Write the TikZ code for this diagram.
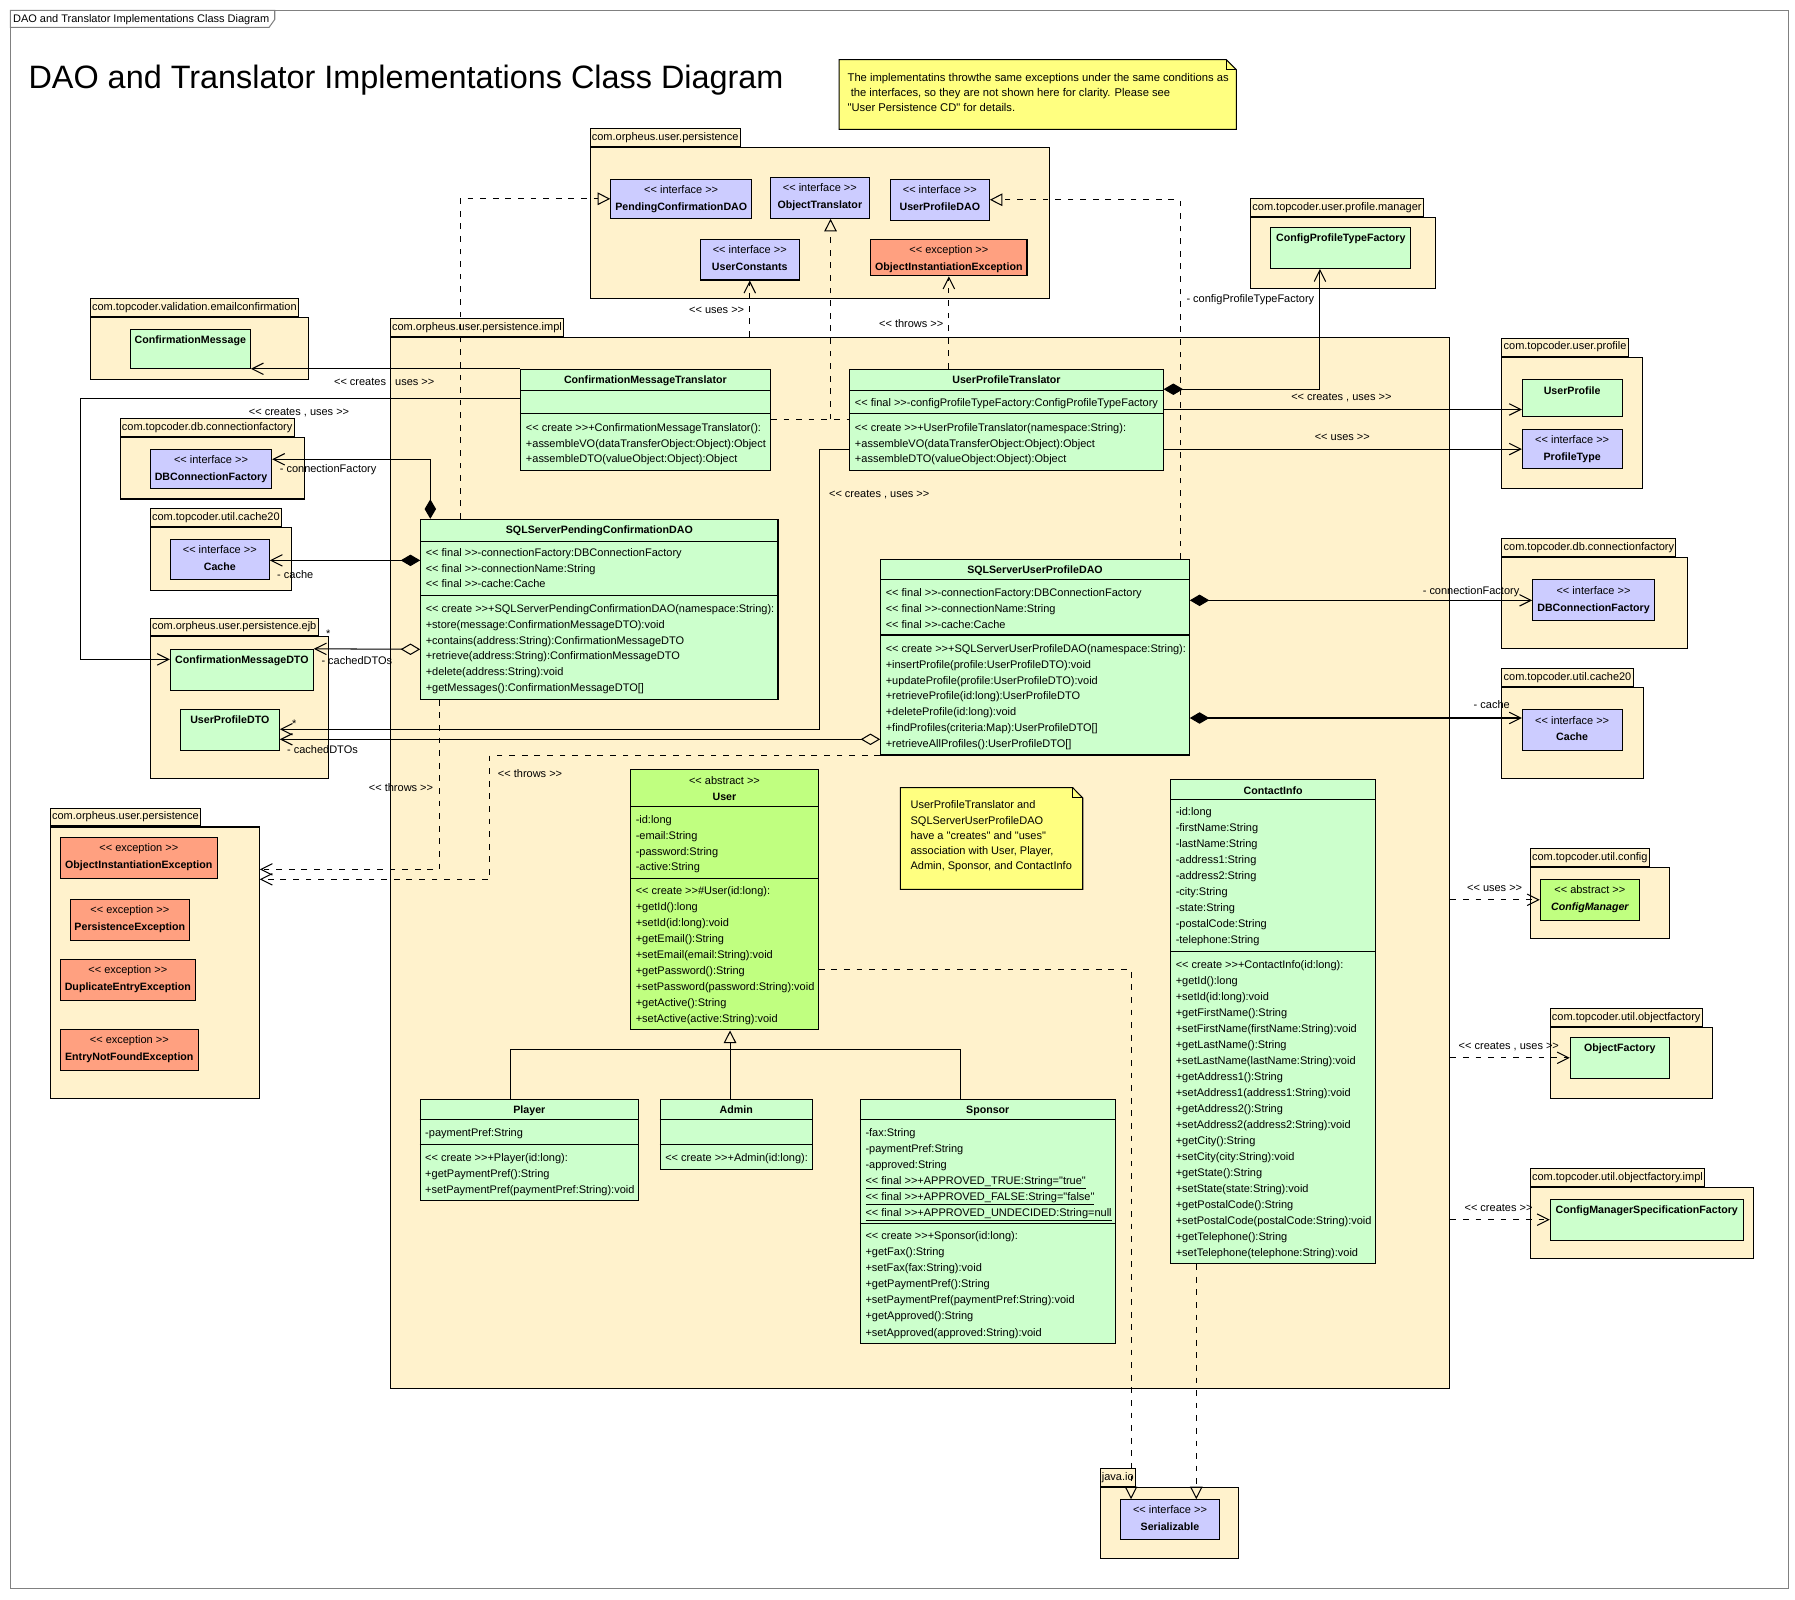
\documentclass[tikz,border=0pt]{standalone}
\usepackage{fontspec}
\setmainfont{Liberation Sans}[Ligatures=TeXOff]
\usetikzlibrary{arrows.meta,fit}

\definecolor{pkgfill}{RGB}{255,242,204}
\definecolor{clsfill}{RGB}{204,255,204}
\definecolor{ifcfill}{RGB}{204,204,255}
\definecolor{excfill}{RGB}{255,160,128}
\definecolor{absfill}{RGB}{192,255,128}
\definecolor{notefill}{RGB}{255,255,128}

% one line per member: first baseline at #3, then every #4
\newcommand\members[5]{%
  \foreach \mline [count=\k] in {#5}
    \node[mem] (#1\k) at (#2,{#3+#4*(\k-1)}) {\ignorespaces\mline};}

\tikzset{
  pkg/.style={draw, fill=pkgfill, inner sep=0pt},
  pkgtab/.style={draw, fill=pkgfill, anchor=south west, inner xsep=1.5pt,
    inner ysep=0pt, minimum height=15.5pt},
  cls/.style={draw, fill=clsfill, inner sep=0pt},
  ifc/.style={cls, fill=ifcfill},
  exc/.style={cls, fill=excfill},
  abs/.style={cls, fill=absfill},
  mem/.style={anchor=base west, inner sep=0pt},
  hd/.style={anchor=base, inner sep=0pt, font=\fontsize{9.3}{12}\selectfont\bfseries},
  st/.style={anchor=base, inner sep=0pt},
  lbl/.style={inner sep=0pt},
  dsh/.style={dash pattern=on 5pt off 6pt},
  dep/.style={-{Straight Barb[length=10pt,width=10pt]}},
  real/.style={dsh, -{Triangle[open,length=11pt,width=11pt]}},
  gen/.style={-{Triangle[open,length=11pt,width=11pt]}},
  comp/.style={{Diamond[length=17pt,width=10pt]}-{Straight Barb[length=10pt,width=10pt]}},
  aggr/.style={{Diamond[open,length=17pt,width=10pt]}-{Straight Barb[length=10pt,width=10pt]}},
  note/.style={draw, fill=notefill},
  diagframe/.style={draw=black!50},
}

\begin{document}
\begin{tikzpicture}[x=1pt, y=-1pt, line width=0.9pt, font=\fontsize{9.6}{12}\selectfont]
\useasboundingbox (0,0) rectangle (1568,1397);

% frame and title
\draw[diagframe] (9,9) rectangle (1562,1388);
\draw[diagframe, fill=white] (9,9) -- (240,9) -- (240,17) -- (235,24) -- (9,24) -- cycle;
\node[anchor=base west, inner sep=0pt] (frametag) at (11,20) {DAO and Translator Implementations Class Diagram};
\node[anchor=base west, inner sep=0pt, font=\fontsize{28.3}{34}\selectfont] (title) at (24.5,77.5) {DAO and Translator Implementations Class Diagram};

% notes
\draw[note] (733,52) -- (1071,52) -- (1080,61) -- (1080,113) -- (733,113) -- cycle;
\draw (1071,52) |- (1080,61);
\begin{scope}[font=\fontsize{9.8}{12}\selectfont]
\members{note1-}{740}{71.5}{13}{{The implementatins throwthe same exceptions under the same conditions as},{\ the interfaces, so they are not shown here for clarity. Please see},{"User Persistence CD" for details.}}
\end{scope}

% packages
\node[pkg, fit={(515.5,128.7) (916.6,260.6)}] (ptop) {};
\node[pkg, fit={(78.9,277.2) (269.3,331.3)}] (pval) {};
\node[pkg, fit={(341,294.6) (1266.5,1213)}] (impl) {};
\node[pkg, fit={(105,382) (265.8,435.9)}] (pdb1) {};
\node[pkg, fit={(131.3,460.6) (254.5,516.2)}] (pca1) {};
\node[pkg, fit={(131.3,556.4) (286.8,679.9)}] (pejb) {};
\node[pkg, fit={(44,722.4) (226.5,959.4)}] (pexc) {};
\node[pkg, fit={(1092.5,189.7) (1254.2,252)}] (pmgr) {};
\node[pkg, fit={(1312,311.9) (1434.4,426.7)}] (ppro) {};
\node[pkg, fit={(1312,486.9) (1474.3,566.6)}] (pdb2) {};
\node[pkg, fit={(1312,600.7) (1436,680.4)}] (pca2) {};
\node[pkg, fit={(1336.8,757.6) (1458.2,819.6)}] (pcfg) {};
\node[pkg, fit={(1354.2,897.4) (1495.7,959.4)}] (pof) {};
\node[pkg, fit={(1336.8,1037.1) (1531.6,1099.2)}] (pofi) {};
\node[pkg, fit={(961,1299) (1082,1361)}] (pio) {};
\foreach \pk/\pname in {ptop/com.orpheus.user.persistence, pval/com.topcoder.validation.emailconfirmation,
    impl/com.orpheus.user.persistence.impl, pdb1/com.topcoder.db.connectionfactory,
    pca1/com.topcoder.util.cache20, pejb/com.orpheus.user.persistence.ejb,
    pexc/com.orpheus.user.persistence, pmgr/com.topcoder.user.profile.manager,
    ppro/com.topcoder.user.profile, pdb2/com.topcoder.db.connectionfactory,
    pca2/com.topcoder.util.cache20, pcfg/com.topcoder.util.config,
    pof/com.topcoder.util.objectfactory, pofi/com.topcoder.util.objectfactory.impl, pio/java.io}
  \node[pkgtab] (\pk-tab) at (\pk.north west) {\pname};

% interfaces, exceptions
\node[ifc, fit={(533.5,156.6) (656.6,190.7)}] (pcdao) {};
\node[ifc, fit={(672.9,154.9) (759.4,190.7)}] (objtr) {};
\node[ifc, fit={(777.7,156.6) (864.2,192.4)}] (updao) {};
\node[ifc, fit={(611.7,209) (698.2,244.6)}] (ucon) {};
\node[exc, fit={(760.6,209) (897.1,241)}] (oie1) {};
\node[ifc, fit={(131.3,392.5) (237.3,426.6)}] (dbcf1) {};
\node[ifc, fit={(148.8,471) (235.2,506.6)}] (cache1) {};
\node[exc, fit={(52.7,731.4) (189.8,767.2)}] (oie2) {};
\node[exc, fit={(61.4,785.6) (165.4,821.4)}] (pex) {};
\node[exc, fit={(52.7,838) (170.6,873.8)}] (dee) {};
\node[exc, fit={(52.7,899.1) (173.2,934.7)}] (enfe) {};
\node[ifc, fit={(1329.8,375.4) (1416.9,409.2)}] (ptype) {};
\node[ifc, fit={(1338.8,506.6) (1445.2,542.2)}] (dbcf2) {};
\node[ifc, fit={(1329.8,620.1) (1416.9,655.6)}] (cache2) {};
\node[abs, fit={(1345.5,768.1) (1432,803.9)}] (cfgm) {};
\node[ifc, fit={(979,1310) (1065,1345)}] (ser) {};
\foreach \cl/\s/\cname in {pcdao/interface/PendingConfirmationDAO, objtr/interface/ObjectTranslator,
    updao/interface/UserProfileDAO, ucon/interface/UserConstants,
    oie1/exception/ObjectInstantiationException, dbcf1/interface/DBConnectionFactory,
    cache1/interface/Cache, oie2/exception/ObjectInstantiationException,
    pex/exception/PersistenceException, dee/exception/DuplicateEntryException,
    enfe/exception/EntryNotFoundException, ptype/interface/ProfileType,
    dbcf2/interface/DBConnectionFactory, cache2/interface/Cache, ser/interface/Serializable}
{
  \node[st] (\cl-s) at ([yshift=-12.8pt]\cl.north) {<< \s{} >>};
  \node[hd] (\cl-n) at ([yshift=-27.6pt]\cl.north) {\cname};
}
\node[st] (cfgm-s) at ([yshift=-12.8pt]cfgm.north) {<< abstract >>};
\node[hd, font=\fontsize{9.3}{12}\selectfont\bfseries\itshape] (cfgm-n) at ([yshift=-27.6pt]cfgm.north) {ConfigManager};

% classes
\node[cls, fit={(113.8,287.7) (218.7,321.7)}] (cm) {};
\node[cls, fit={(148.8,567.2) (273.7,603)}] (cmdto) {};
\node[cls, fit={(157.5,619.6) (244,655.4)}] (updto) {};
\node[cls, fit={(1110,198.7) (1232.5,234.5)}] (cptf) {};
\node[cls, fit={(1329.8,331.7) (1416.9,364.1)}] (uprof) {};
\node[cls, fit={(1371.7,906.1) (1458.2,941.9)}] (objf) {};
\node[cls, fit={(1354.2,1047.6) (1522.8,1083.2)}] (cmsf) {};
\node[cls, fit={(454.5,322.6) (673,410.6)}] (cmt) {};
\node[cls, fit={(742.4,322.6) (1016,410.6)}] (upt) {};
\node[cls, fit={(367.5,453.6) (679.6,610.9)}] (sspcd) {};
\node[cls, fit={(769.3,488.6) (1038.9,659.5)}] (ssupd) {};
\node[abs, fit={(550.9,672) (714.8,899.7)}] (user) {};
\node[cls, fit={(1022.6,681.1) (1201.7,1103.9)}] (ci) {};
\node[cls, fit={(367,960.3) (557.8,1048.8)}] (player) {};
\node[cls, fit={(576.7,960.3) (709.5,1021.4)}] (admin) {};
\node[cls, fit={(751.6,960.3) (974.1,1173.4)}] (sponsor) {};

\foreach \cl/\a/\b in {cmt/340.7/361.6, upt/340.7/361.6, sspcd/473.2/520.3, ssupd/506/554.7,
    user/704.1/767.2, ci/698.2/831, player/977.8/999.6, admin/977.8/999.6, sponsor/977.8/1068.6}
  \draw (\cl.west |- 0,\a) -- (\cl.east |- 0,\a) (\cl.west |- 0,\b) -- (\cl.east |- 0,\b);

\foreach \cl/\cname in {cmt/ConfirmationMessageTranslator, upt/UserProfileTranslator,
    sspcd/SQLServerPendingConfirmationDAO, ssupd/SQLServerUserProfileDAO, ci/ContactInfo,
    player/Player, admin/Admin, sponsor/Sponsor, cm/ConfirmationMessage,
    cmdto/ConfirmationMessageDTO, updto/UserProfileDTO, cptf/ConfigProfileTypeFactory,
    uprof/UserProfile, objf/ObjectFactory, cmsf/ConfigManagerSpecificationFactory}
  \node[hd] (\cl-n) at ([yshift=-13pt]\cl.north) {\cname};
\node[st] (user-s) at ([yshift=-13.4pt]user.north) {<< abstract >>};
\node[hd] (user-n) at ([yshift=-27.6pt]user.north) {User};

\members{cmt-m}{459}{377}{13.7}{<< create >>+ConfirmationMessageTranslator():,+assembleVO(dataTransferObject:Object):Object,+assembleDTO(valueObject:Object):Object}
\members{upt-a}{746.4}{354.8}{13.7}{<< final >>-configProfileTypeFactory:ConfigProfileTypeFactory}
\members{upt-m}{746.4}{377}{13.7}{<< create >>+UserProfileTranslator(namespace:String):,+assembleVO(dataTransferObject:Object):Object,+assembleDTO(valueObject:Object):Object}
\members{sspcd-a}{371.5}{485.9}{13.8}{<< final >>-connectionFactory:DBConnectionFactory,<< final >>-connectionName:String,<< final >>-cache:Cache}
\members{sspcd-m}{371.5}{535.1}{13.8}{<< create >>+SQLServerPendingConfirmationDAO(namespace:String):,+store(message:ConfirmationMessageDTO):void,+contains(address:String):ConfirmationMessageDTO,+retrieve(address:String):ConfirmationMessageDTO,+delete(address:String):void,+getMessages():ConfirmationMessageDTO[]}
\members{ssupd-a}{773.3}{520.8}{13.9}{<< final >>-connectionFactory:DBConnectionFactory,<< final >>-connectionName:String,<< final >>-cache:Cache}
\members{ssupd-m}{773.3}{570}{13.8}{<< create >>+SQLServerUserProfileDAO(namespace:String):,+insertProfile(profile:UserProfileDTO):void,+updateProfile(profile:UserProfileDTO):void,+retrieveProfile(id:long):UserProfileDTO,+deleteProfile(id:long):void,+findProfiles(criteria:Map):UserProfileDTO[],+retrieveAllProfiles():UserProfileDTO[]}
\members{user-a}{554.9}{719.1}{13.9}{-id:long,-email:String,-password:String,-active:String}
\members{user-m}{554.9}{781.7}{13.97}{<< create >>\#User(id:long):,+getId():long,+setId(id:long):void,+getEmail():String,+setEmail(email:String):void,+getPassword():String,+setPassword(password:String):void,+getActive():String,+setActive(active:String):void}
\members{ci-a}{1026.6}{712.7}{13.98}{-id:long,-firstName:String,-lastName:String,-address1:String,-address2:String,-city:String,-state:String,-postalCode:String,-telephone:String}
\members{ci-m}{1026.6}{845.7}{13.98}{<< create >>+ContactInfo(id:long):,+getId():long,+setId(id:long):void,+getFirstName():String,+setFirstName(firstName:String):void,+getLastName():String,+setLastName(lastName:String):void,+getAddress1():String,+setAddress1(address1:String):void,+getAddress2():String,+setAddress2(address2:String):void,+getCity():String,+setCity(city:String):void,+getState():String,+setState(state:String):void,+getPostalCode():String,+setPostalCode(postalCode:String):void,+getTelephone():String,+setTelephone(telephone:String):void}
\members{player-a}{371}{992.5}{13.95}{-paymentPref:String}
\members{player-m}{371}{1014.4}{13.95}{<< create >>+Player(id:long):,+getPaymentPref():String,+setPaymentPref(paymentPref:String):void}
\members{admin-m}{580.7}{1014.4}{13.95}{<< create >>+Admin(id:long):}
\members{sponsor-a}{755.6}{992.5}{13.98}{-fax:String,-paymentPref:String,-approved:String,\underline{<< final >>+APPROVED\_TRUE:String="true"},\underline{<< final >>+APPROVED\_FALSE:String="false"},\underline{<< final >>+APPROVED\_UNDECIDED:String=null}}
\members{sponsor-m}{755.6}{1083.1}{13.99}{<< create >>+Sponsor(id:long):,+getFax():String,+setFax(fax:String):void,+getPaymentPref():String,+setPaymentPref(paymentPref:String):void,+getApproved():String,+setApproved(approved:String):void}

% note on the associations
\draw[note] (786.5,688) -- (937,688) -- (945.8,697) -- (945.8,776.8) -- (786.5,776.8) -- cycle;
\draw (937,688) |- (945.8,697);
\members{note2-}{795}{706.6}{13.2}{{UserProfileTranslator and},{SQLServerUserProfileDAO},{have a "creates" and "uses"},{association with User, Player,},{Admin, Sponsor, and ContactInfo}}

% translators
\coordinate (otj) at (725.5,366.3);
\draw[dsh] (cmt.east |- otj) -- (upt.west |- otj);
\draw[real] (otj) -- (objtr.south -| otj);
\draw[dep] (cmt.north west) -- (cm.south east |- cmt.north west);
\draw[dep] (cmt.west |- 0,348.5) -| (70,576) -- (cmdto.west |- 0,576);
\draw[dep,dsh] (ucon.south |- impl.north) -- (ucon.south);
\draw[dep,dsh] (oie1.south |- upt.north) -- (oie1.south);
\draw[comp] (upt.east |- 0,340) -| (cptf.south -| 1153,0);
\draw[dep] (upt.east |- 0,357.7) -- (uprof.west |- 0,357.7);
\draw[dep] (upt.east |- ptype.west) -- (ptype.west);
\draw[dep] (upt.west |- 0,392.5) -| (716,637) -- (updto.east |- 0,637);

% DAOs
\draw[real] (sspcd.north -| 402,0) |- (pcdao.west);
\draw[comp] (sspcd.north west -| 375.9,0) |- (dbcf1.east |- 0,401.2);
\draw[comp] (sspcd.west |- 0,489.5) -- (cache1.east |- 0,489.5);
\draw[aggr] (sspcd.west |- 0,567.2) -- (cmdto.north east);
\draw[dep,dsh] (sspcd.south -| 384.3,0) |- (pexc.east |- 0,759.4);
\draw[real] (ssupd.north -| 1031,0) |- (updao.east);
\draw[comp] (ssupd.east |- dbcf2.west) -- (dbcf2.west);
\draw[comp] (ssupd.east |- 0,627.2) -- (cache2.west |- 0,627.2);
\draw[aggr] (ssupd.west |- 0,645.8) -- (updto.east |- 0,645.8);
\draw[dep,dsh] (ssupd.south west) -| (428,768.1) -- (pexc.east |- 0,768.1);

% users
\draw (player.north -| 445.6,0) |- (638,916.6) -| (sponsor.north -| 838.6,0);
\draw[gen] (admin.north -| 637.7,0) -- (user.south -| 637.7,0);
\draw[real] (user.east |- 0,846.7) -| (ser.north -| 988,0);
\draw[real] (ci.south -| 1045,0) -- (ser.north -| 1045,0);

% package dependencies on the right
\draw[dep,dsh] (impl.east |- cfgm.west) -- (cfgm.west);
\draw[dep,dsh] (impl.east |- objf.west) -- (objf.west);
\draw[dep,dsh] (impl.east |- cmsf.west) -- (cmsf.west);

% labels
\node[lbl] (l1) at (335.6,334) {<< creates , uses >>};
\node[lbl] (l2) at (261.2,360.2) {<< creates , uses >>};
\node[lbl, anchor=west] (l3) at (244,410) {- connectionFactory};
\node[lbl, anchor=west] (l4) at (241.7,501.7) {- cache};
\node[lbl] (l5) at (286.8,553.2) {*};
\node[lbl, anchor=west] (l6) at (280.4,576.8) {- cachedDTOs};
\node[lbl] (l7) at (257,632.4) {*};
\node[lbl, anchor=west] (l8) at (250.4,655) {- cachedDTOs};
\node[lbl] (l9) at (350.3,687.7) {<< throws >>};
\node[lbl] (l10) at (463,675.5) {<< throws >>};
\node[lbl] (l11) at (626,271.4) {<< uses >>};
\node[lbl] (l12) at (796,283) {<< throws >>};
\node[lbl] (l13) at (768,432) {<< creates , uses >>};
\node[lbl, anchor=west] (l14) at (1036,261.4) {- configProfileTypeFactory};
\node[lbl] (l15) at (1171.7,347) {<< creates , uses >>};
\node[lbl] (l16) at (1172.5,381.8) {<< uses >>};
\node[lbl, anchor=west] (l17) at (1242.4,516.7) {- connectionFactory};
\node[lbl, anchor=west] (l18) at (1286.9,615.4) {- cache};
\node[lbl] (l19) at (1305.6,776) {<< uses >>};
\node[lbl] (l20) at (1318,914.3) {<< creates , uses >>};
\node[lbl] (l21) at (1309,1055.5) {<< creates >>};
\end{tikzpicture}
\end{document}
